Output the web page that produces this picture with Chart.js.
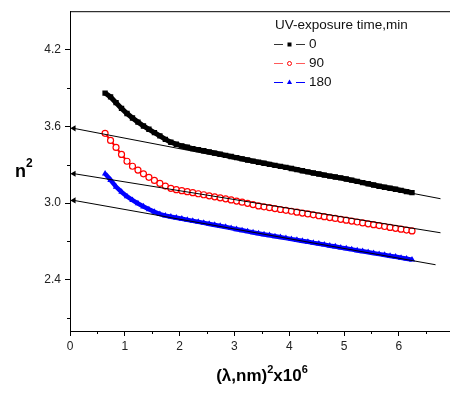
<!DOCTYPE html>
<html>
<head>
<meta charset="utf-8">
<script src="https://cdn.jsdelivr.net/npm/chart.js@4.4.1/dist/chart.umd.min.js"></script>
<style>
  html, body { margin: 0; padding: 0; background: #fff; overflow: hidden; }
  #wrap { width: 450px; height: 394px; overflow: hidden; }
</style>
</head>
<body>
<div id="wrap"><canvas id="nChart" width="460" height="394"></canvas></div>
<script>
// (lambda,nm)^2 x 10^6 values, shared by all three curves
const lambdaSq = [0.64, 0.74, 0.84, 0.94, 1.04, 1.14, 1.24, 1.34, 1.44, 1.54,
    1.64, 1.74, 1.84, 1.94, 2.04, 2.14, 2.24, 2.34, 2.44, 2.54,
    2.64, 2.74, 2.84, 2.94, 3.04, 3.14, 3.24, 3.34, 3.44, 3.54,
    3.64, 3.74, 3.84, 3.94, 4.04, 4.14, 4.24, 4.34, 4.44, 4.54,
    4.64, 4.74, 4.84, 4.94, 5.04, 5.14, 5.24, 5.34, 5.44, 5.54,
    5.64, 5.74, 5.84, 5.94, 6.04, 6.14, 6.24];

// n^2 for UV exposure 0 min
const n2_0 = [3.860, 3.830, 3.785, 3.740, 3.700, 3.665, 3.633, 3.603, 3.577, 3.551,
    3.525, 3.498, 3.476, 3.460, 3.446, 3.436, 3.426, 3.418, 3.409, 3.400,
    3.391, 3.382, 3.373, 3.364, 3.355, 3.346, 3.337, 3.328, 3.319, 3.311,
    3.303, 3.295, 3.287, 3.279, 3.270, 3.262, 3.253, 3.244, 3.235, 3.227,
    3.219, 3.211, 3.204, 3.197, 3.188, 3.179, 3.170, 3.160, 3.151, 3.141,
    3.132, 3.124, 3.116, 3.108, 3.099, 3.090, 3.082];

// n^2 for UV exposure 90 min
const n2_90 = [3.545, 3.490, 3.435, 3.380, 3.327, 3.288, 3.258, 3.229, 3.201, 3.177,
    3.154, 3.133, 3.115, 3.105, 3.097, 3.089, 3.081, 3.073, 3.065, 3.057,
    3.049, 3.041, 3.033, 3.025, 3.016, 3.007, 2.998, 2.988, 2.978, 2.971,
    2.964, 2.957, 2.950, 2.943, 2.936, 2.929, 2.922, 2.915, 2.908, 2.901,
    2.894, 2.887, 2.880, 2.873, 2.866, 2.859, 2.852, 2.845, 2.838, 2.831,
    2.824, 2.817, 2.810, 2.803, 2.796, 2.789, 2.782];

// n^2 for UV exposure 180 min
const n2_180 = [3.230, 3.180, 3.127, 3.087, 3.052, 3.023, 2.997, 2.973, 2.951, 2.931,
    2.914, 2.902, 2.893, 2.885, 2.877, 2.869, 2.861, 2.853, 2.845, 2.837,
    2.829, 2.821, 2.813, 2.804, 2.795, 2.787, 2.779, 2.770, 2.762, 2.755,
    2.748, 2.740, 2.733, 2.726, 2.718, 2.711, 2.704, 2.697, 2.689, 2.682,
    2.675, 2.667, 2.660, 2.652, 2.645, 2.638, 2.630, 2.623, 2.616, 2.608,
    2.601, 2.594, 2.587, 2.580, 2.572, 2.565, 2.558];

// extrapolation lines (arrow end first)
const fitX_0 = [0.07, 6.76], fitY_0 = [3.584, 3.034];
const fitX_90 = [0.07, 6.76], fitY_90 = [3.230, 2.768];
const fitX_180 = [0.07, 6.67], fitY_180 = [3.021, 2.518];

const seriesNames = ['0', '90', '180'];
const legendTitle = 'UV-exposure time,min';
const yTicks = [2.4, 3.0, 3.6, 4.2];
const yMinor = [2.1, 2.7, 3.3, 3.9];
const xTicks = [0, 1, 2, 3, 4, 5, 6, 7];
const xMinor = [0.5, 1.5, 2.5, 3.5, 4.5, 5.5, 6.5];

const colors = ['#000000', '#ff0000', '#0000ff'];

function pts(xs, ys) {
    return xs.map((x, i) => ({ x: x, y: ys[i] }));
}

function fitLine(xs, ys) {
    return {
        data: pts(xs, ys),
        showLine: true,
        borderColor: '#000',
        borderWidth: 1,
        backgroundColor: '#000',
        pointStyle: 'triangle',
        rotation: -90,
        pointRadius: [3.5, 0],
        pointBorderWidth: 0,
        order: 0,
    };
}

// axis titles, frame, minor ticks and the inside legend
const extras = {
    id: 'extras',
    afterDraw(chart) {
        const ctx = chart.ctx;
        const a = chart.chartArea;
        const xs = chart.scales.x, ys = chart.scales.y;
        ctx.save();
        ctx.strokeStyle = '#000';
        ctx.lineWidth = 1;
        ctx.beginPath();
        ctx.moveTo(a.left, a.top + 0.5);
        ctx.lineTo(a.right, a.top + 0.5);
        ctx.lineTo(a.right, a.bottom);
        ctx.stroke();

        // minor ticks
        ctx.beginPath();
        yMinor.forEach(v => {
            const p = Math.round(ys.getPixelForValue(v)) + 0.5;
            ctx.moveTo(a.left - 3, p);
            ctx.lineTo(a.left, p);
        });
        xMinor.forEach(v => {
            const p = Math.round(xs.getPixelForValue(v)) + 0.5;
            ctx.moveTo(p, a.bottom);
            ctx.lineTo(p, a.bottom + 3);
        });
        ctx.stroke();

        // y title n^2
        ctx.fillStyle = '#000';
        ctx.textBaseline = 'alphabetic';
        ctx.textAlign = 'left';
        ctx.font = 'bold 18px "Liberation Sans", Arial, sans-serif';
        ctx.fillText('n', 15, 177);
        ctx.font = 'bold 12px "Liberation Sans", Arial, sans-serif';
        ctx.fillText('2', 26, 167);

        // x title (lambda,nm)^2 x10^6
        const big = 'bold 17px "Liberation Sans", Arial, sans-serif';
        const small = 'bold 11px "Liberation Sans", Arial, sans-serif';
        const parts = [['(\u03bb,nm)', big, 0], ['2', small, -8], ['x10', big, 0], ['6', small, -8]];
        let w = 0;
        parts.forEach(p => { ctx.font = p[1]; w += ctx.measureText(p[0]).width; });
        let cx = 262 - w / 2;
        parts.forEach(p => {
            ctx.font = p[1];
            ctx.fillText(p[0], cx, 381 + p[2]);
            cx += ctx.measureText(p[0]).width;
        });

        // legend
        ctx.font = '13.5px "Liberation Sans", Arial, sans-serif';
        ctx.textBaseline = 'middle';
        ctx.fillStyle = '#111';
        ctx.fillText(legendTitle, 275, 25);
        const rows = [44, 63, 82];
        const lineCols = ['#333333', '#ff5a5a', '#0000ff'];
        seriesNames.forEach((name, i) => {
            const yy = rows[i] + 0.5;
            ctx.strokeStyle = lineCols[i];
            ctx.lineWidth = 1;
            ctx.beginPath();
            ctx.moveTo(274, yy); ctx.lineTo(283, yy);
            ctx.moveTo(296, yy); ctx.lineTo(305, yy);
            ctx.stroke();
            const mx = 289.5;
            if (i === 0) {
                ctx.fillStyle = '#000';
                ctx.fillRect(mx - 2, yy - 2, 4, 4);
            } else if (i === 1) {
                ctx.strokeStyle = '#ff0000';
                ctx.beginPath();
                ctx.arc(mx, yy, 2, 0, Math.PI * 2);
                ctx.stroke();
            } else {
                ctx.fillStyle = '#0000ff';
                ctx.beginPath();
                ctx.moveTo(mx, yy - 3);
                ctx.lineTo(mx + 2.6, yy + 1.5);
                ctx.lineTo(mx - 2.6, yy + 1.5);
                ctx.closePath();
                ctx.fill();
            }
            ctx.fillStyle = '#111';
            ctx.fillText(name, 309, rows[i] + 0.5);
        });
        ctx.restore();
    }
};

const ctx = document.getElementById('nChart').getContext('2d');
const nChart = new Chart(ctx, {
    type: 'scatter',
    data: {
        datasets: [
            {
                label: seriesNames[0],
                data: pts(lambdaSq, n2_0),
                showLine: true,
                borderColor: colors[0],
                borderWidth: 5,
                backgroundColor: colors[0],
                pointStyle: 'rect',
                pointRadius: 3.8,
                pointBorderWidth: 0,
                order: 1,
            },
            {
                label: seriesNames[1],
                data: pts(lambdaSq, n2_90),
                showLine: true,
                borderColor: colors[1],
                borderWidth: 2,
                backgroundColor: '#ffffff',
                pointBorderColor: colors[1],
                pointStyle: 'circle',
                pointRadius: 3,
                pointBorderWidth: 1.2,
                order: 1,
            },
            {
                label: seriesNames[2],
                data: pts(lambdaSq, n2_180),
                showLine: true,
                borderColor: colors[2],
                borderWidth: 4.5,
                backgroundColor: colors[2],
                pointStyle: 'triangle',
                pointRadius: 3.7,
                pointBorderWidth: 0,
                order: 1,
            },
            fitLine(fitX_0, fitY_0),
            fitLine(fitX_90, fitY_90),
            fitLine(fitX_180, fitY_180),
        ],
    },
    options: {
        responsive: false,
        animation: false,
        layout: { padding: { top: 7, right: 4, left: 0, bottom: 0 } },
        plugins: {
            legend: { display: false },
            tooltip: { enabled: false },
        },
        scales: {
            x: {
                type: 'linear',
                min: 0,
                max: 7,
                afterBuildTicks: scale => { scale.ticks = xTicks.map(v => ({ value: v })); },
                afterFit: scale => { scale.height = 63; },
                ticks: {
                    color: '#222',
                    font: { family: '"Liberation Sans", Arial, sans-serif', size: 12 },
                    padding: 3,
                    maxRotation: 0,
                    callback: v => String(v),
                },
                grid: { drawOnChartArea: false, tickLength: 5, tickColor: '#000' },
                border: { color: '#000', width: 1 },
            },
            y: {
                min: 2.0,
                max: 4.5,
                afterBuildTicks: scale => { scale.ticks = yTicks.map(v => ({ value: v })); },
                afterFit: scale => { scale.width = 70; },
                ticks: {
                    color: '#222',
                    font: { family: '"Liberation Sans", Arial, sans-serif', size: 12 },
                    padding: 4,
                    callback: v => v.toFixed(1),
                },
                grid: { drawOnChartArea: false, tickLength: 5, tickColor: '#000' },
                border: { color: '#000', width: 1 },
            },
        },
    },
    plugins: [extras],
});
</script>
</body>
</html>
